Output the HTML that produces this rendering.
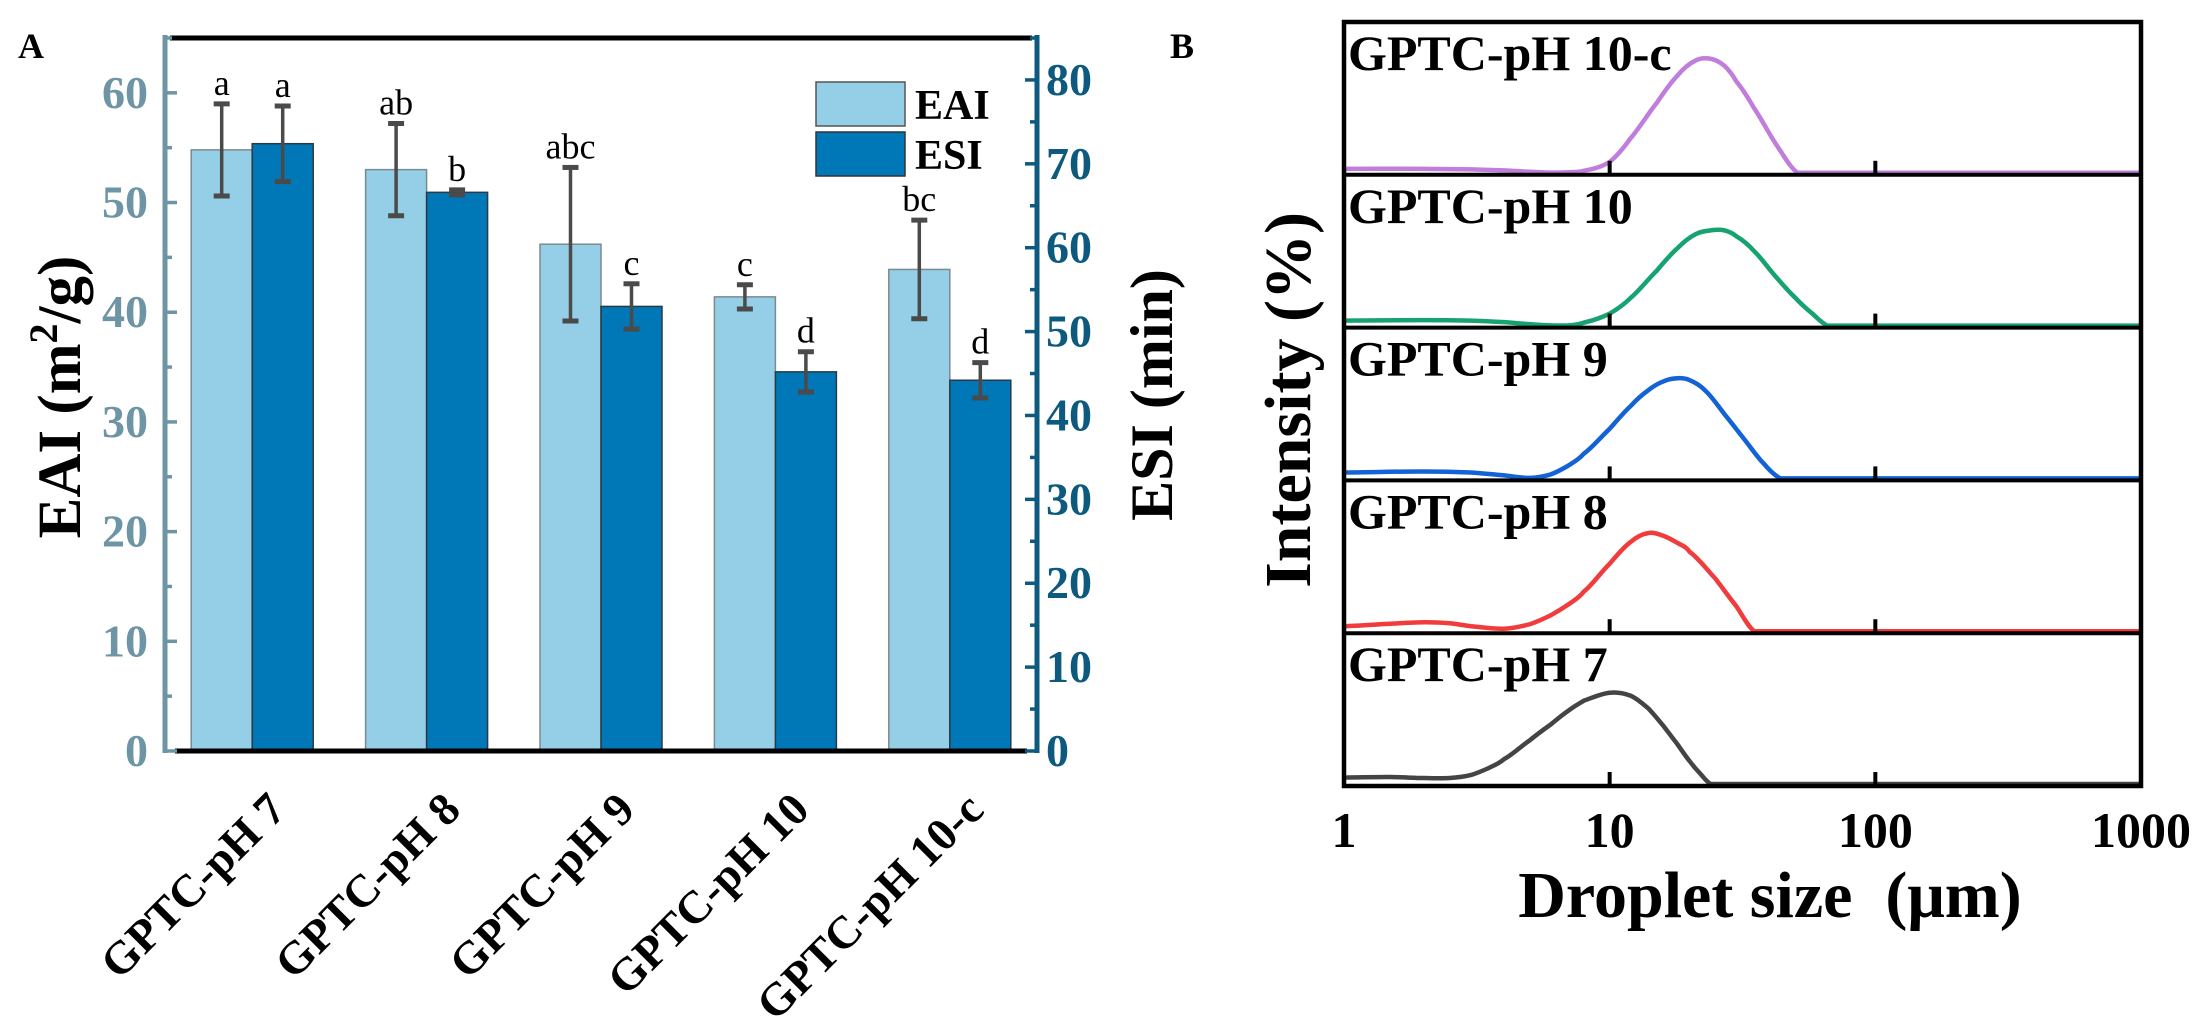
<!DOCTYPE html>
<html><head><meta charset="utf-8"><style>
body{margin:0;background:#fff}
svg{display:block;font-family:"Liberation Serif",serif}
</style></head><body>
<svg id="fig" width="2209" height="1028" viewBox="0 0 2209 1028"></svg>
<script>
// Panel A data
const categories=["GPTC-pH 7","GPTC-pH 8","GPTC-pH 9","GPTC-pH 10","GPTC-pH 10-c"];
const eaiValues=[54.8,53.0,46.2,41.4,43.9];
const eaiErrors=[4.2,4.2,7.0,1.1,4.5];
const esiValues=[72.4,66.6,53.0,45.2,44.2];
const esiErrors=[4.5,0.3,2.7,2.4,2.1];
const eaiLetters=["a","ab","abc","c","bc"];
const esiLetters=["a","b","c","d","d"];
const leftTicks=[0,10,20,30,40,50,60];
const rightTicks=[0,10,20,30,40,50,60,70,80];
// Panel B data
const seriesNames=["GPTC-pH 10-c","GPTC-pH 10","GPTC-pH 9","GPTC-pH 8","GPTC-pH 7"];
const seriesColors=["#c07ddc","#16a36f","#1463d6","#f03c3c","#444444"];
const sizes10c=[1,2,3,4,5,6,7,8,10,12,15,18,21,24,27,30,35,42,51,1000];
const vals10c=[0.4,0.4,0.35,0.25,0.1,0.02,0.05,0.2,1.1,3.5,7,9.8,11.3,11.5,10.8,9.2,6.5,3,0,0];
const sizes10=[1,2,3,4,5,6,7,8,10,12,15,18,21,24,27,30,35,42,50,58,66,1000];
const vals10=[0.5,0.55,0.5,0.35,0.15,0.02,0.02,0.3,1.2,2.8,5.5,7.8,9.2,9.6,9.6,9,7.5,5,2.8,1.2,0,0];
const sizes9=[1,2,3,4,5,6,7,8,10,12,14,16,18,20,23,27,32,38,44,1000];
const vals9=[0.6,0.7,0.6,0.3,0.05,0.4,1.3,2.5,5,7.3,8.9,9.8,10.1,9.9,8.8,6.5,4,1.5,0,0];
const sizes8=[1,1.5,2,2.5,3,4,5,6,7,8,10,12,14,16,18,20,25,30,35,1000];
const vals8=[0.5,0.75,0.9,0.8,0.5,0.25,0.7,1.6,2.7,4,6.8,9,9.9,9.6,8.9,8,5.3,2.5,0,0];
const sizes7=[1,1.5,2,2.5,3,3.5,4,5,6,7,8,10,12,14,16,18,20,22,24,1000];
const vals7=[0.65,0.7,0.6,0.6,0.9,1.6,2.5,4.4,6,7.4,8.4,9.2,8.9,7.6,5.8,4,2.3,1,0,0];
const xTicksB=[1,10,100,1000];

const NS="http://www.w3.org/2000/svg";
const svg=document.getElementById('fig');
function mk(tag,attrs,parent){const e=document.createElementNS(NS,tag);for(const k in attrs)e.setAttribute(k,attrs[k]);(parent||svg).appendChild(e);return e;}
function txt(s,attrs,parent){const e=mk('text',attrs,parent);e.textContent=s;return e;}

// ---- Panel A ----
const L=165,R=1037,T=38,B=751;
const yL=v=>B-(B-T)*v/65;
const yR=v=>B-(B-T)*v/85;
const band=(R-L)/categories.length;
const cx=i=>L+band*(i+0.5);
const bw=61;
const gA=mk('g',{});


let t=txt('A',{x:18,y:58,'font-size':36,'font-weight':'bold'},gA);


categories.forEach((c,i)=>{
  const g=mk('g',{},gA);
  
  
  const x1=cx(i)-bw, x2=cx(i);
  let r=mk('rect',{x:x1,y:yL(eaiValues[i]),width:bw,height:B-yL(eaiValues[i]),fill:'#95cfe7',stroke:'#7a8a90','stroke-width':1.5},g);
  
  r=mk('rect',{x:x2,y:yR(esiValues[i]),width:bw,height:B-yR(esiValues[i]),fill:'#0077b6',stroke:'#2a3a44','stroke-width':1.5},g);
  
  const eb=(x,top,bot)=>{
    const e=mk('g',{stroke:'#4a4a4a','stroke-width':3.5},g);
    
    mk('line',{x1:x,x2:x,y1:top,y2:bot},e);
    mk('line',{x1:x-8,x2:x+8,y1:top,y2:top,'stroke-width':5},e);
    mk('line',{x1:x-8,x2:x+8,y1:bot,y2:bot,'stroke-width':5},e);
  };
  const ex1=x1+bw/2, ex2=x2+bw/2;
  eb(ex1,yL(eaiValues[i]+eaiErrors[i]),yL(eaiValues[i]-eaiErrors[i]));
  eb(ex2,yR(esiValues[i]+esiErrors[i]),yR(esiValues[i]-esiErrors[i]));
  let l=txt(eaiLetters[i],{x:ex1,y:yL(eaiValues[i]+eaiErrors[i])-9,'font-size':36,'text-anchor':'middle'},g);
  
  l=txt(esiLetters[i],{x:ex2,y:yR(esiValues[i]+esiErrors[i])-9,'font-size':36,'text-anchor':'middle'},g);
  
  const xl=cx(i)+36, yl=812;
  l=txt(c,{x:xl,y:yl,'font-size':46,'font-weight':'bold','text-anchor':'end',transform:`rotate(-45 ${xl} ${yl})`},g);
  
});
let fr=mk('line',{x1:L+5,x2:R-5,y1:T,y2:T,stroke:'#000','stroke-width':5},gA);

fr=mk('line',{x1:L+10,x2:R-10,y1:B,y2:B,stroke:'#000','stroke-width':5},gA);

const la=mk('g',{},gA);

mk('line',{x1:L,x2:L,y1:T-3,y2:B+2,stroke:'#6d95a5','stroke-width':5},la);
for(let v=0;v<=65;v+=5){mk('line',{x1:L,x2:L+(v%10===0?12:7),y1:yL(v),y2:yL(v),stroke:'#6d95a5','stroke-width':3.5},la);}
leftTicks.forEach(v=>{const e=txt(String(v),{x:148,y:yL(v)+15,'font-size':46,'font-weight':'bold',fill:'#6d95a5','text-anchor':'end'},la);
  });
t=txt('',{x:0,y:0,'font-size':61,'font-weight':'bold',transform:'translate(80 397) rotate(-90)','text-anchor':'middle'},gA);
t.innerHTML='EAI (m<tspan dy="-23" font-size="40">2</tspan><tspan dy="23">/g)</tspan>';

const ra=mk('g',{},gA);

mk('line',{x1:R,x2:R,y1:T-3,y2:B+2,stroke:'#0d5a7e','stroke-width':5},ra);
for(let v=0;v<=85;v+=5){mk('line',{x1:R,x2:R-(v%10===0?12:7),y1:yR(v),y2:yR(v),stroke:'#0d5a7e','stroke-width':3.5},ra);}
rightTicks.forEach(v=>{const e=txt(String(v),{x:1046,y:yR(v)+15,'font-size':46,'font-weight':'bold',fill:'#0d5a7e'},ra);
  });
t=txt('ESI (min)',{x:0,y:0,'font-size':60,'font-weight':'bold',transform:'translate(1172 395) rotate(-90)','text-anchor':'middle'},gA);

const lg=mk('g',{},gA);

let le=mk('rect',{x:816,y:82,width:89,height:44,fill:'#95cfe7',stroke:'#555','stroke-width':1.5},lg);

le=mk('rect',{x:816,y:132,width:89,height:44,fill:'#0077b6',stroke:'#333','stroke-width':1.5},lg);

le=txt('EAI',{x:915,y:119,'font-size':42,'font-weight':'bold'},lg);

le=txt('ESI',{x:915,y:169,'font-size':42,'font-weight':'bold'},lg);


// ---- Panel B ----
const BL=1344,BR=2141,BT=22,BB=786;
const nP=5, ph=(BB-BT)/nP;
const xB=s=>BL+(BR-BL)*Math.log10(s)/3;
const ymax=15;
const gB=mk('g',{});

t=txt('B',{x:1170,y:58,'font-size':36,'font-weight':'bold'},gB);

const allSizes=[sizes10c,sizes10,sizes9,sizes8,sizes7];
const allVals=[vals10c,vals10,vals9,vals8,vals7];
function smoothPath(pts,baseY){
  // smooth over points up to last non-flat point, then straight tail
  let n=pts.length;
  while(n>2 && pts[n-2][1]===baseY && pts[n-1][1]===baseY) n--;
  const sp=pts.slice(0,n);
  let d=`M${sp[0][0]},${sp[0][1]}`;
  for(let i=0;i<sp.length-1;i++){
    const p0=sp[Math.max(0,i-1)],p1=sp[i],p2=sp[i+1],p3=sp[Math.min(sp.length-1,i+2)];
    let c1y=p1[1]+(p2[1]-p0[1])/6, c2y=p2[1]-(p3[1]-p1[1])/6;
    c1y=Math.min(c1y,baseY); c2y=Math.min(c2y,baseY);
    const c1x=p1[0]+(p2[0]-p1[0])/3, c2x=p2[0]-(p2[0]-p1[0])/3;
    d+=` C${c1x},${c1y} ${c2x},${c2y} ${p2[0]},${p2[1]}`;
  }
  for(let i=n;i<pts.length;i++) d+=` L${pts[i][0]},${pts[i][1]}`;
  return d;
}
seriesNames.forEach((n,k)=>{
  const top=BT+ph*k, base=top+ph;
  const g=mk('g',{},gB);
  
  
  const y=v=>base-2-(ph-4)*v/ymax;
  const pts=allSizes[k].map((s,i)=>[xB(s),y(allVals[k][i])]);
  const p=mk('path',{d:smoothPath(pts,y(0)),fill:'none',stroke:seriesColors[k],'stroke-width':4.5,'stroke-linejoin':'round'},g);
  
  [10,100].forEach(s=>{mk('line',{x1:xB(s),x2:xB(s),y1:base,y2:base-14,stroke:'#000','stroke-width':4},g);});
  const lb=txt(n,{x:BL+4,y:top+48,'font-size':50,'font-weight':'bold'},g);
  
  if(k>0){mk('line',{x1:BL,x2:BR,y1:top,y2:top,stroke:'#000','stroke-width':4},g);}
});
fr=mk('rect',{x:BL,y:BT,width:BR-BL,height:BB-BT,fill:'none',stroke:'#000','stroke-width':4.5},gB);

xTicksB.forEach(v=>{const e=txt(String(v),{x:xB(v),y:847,'font-size':50,'font-weight':'bold','text-anchor':'middle'},gB);
  });
t=txt('Droplet size\u00a0\u00a0(μm)',{x:1770,y:917,'font-size':66,'font-weight':'bold','text-anchor':'middle'},gB);

t=txt('Intensity (%)',{x:0,y:0,'font-size':66,'font-weight':'bold','text-anchor':'middle',transform:'translate(1310 400) rotate(-90)'},gB);

</script>
</body></html>
